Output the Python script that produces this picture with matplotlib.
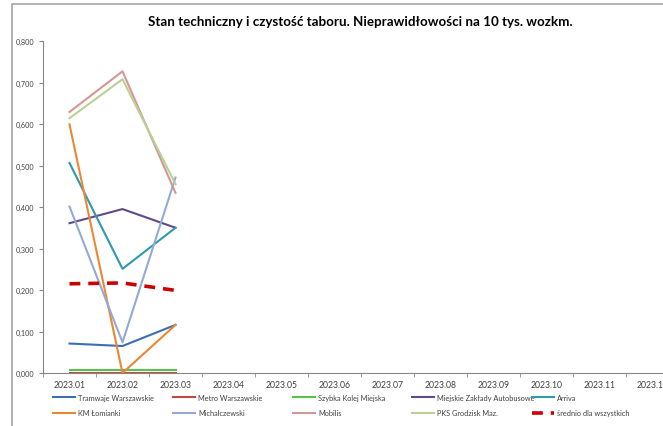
import numpy as np
import matplotlib.pyplot as plt
from matplotlib.patches import Rectangle

plt.rcParams['font.family'] = ['Lato', 'DejaVu Sans']

#---------------------------------------------------------------------------------------------
# data

months = ['2023.01', '2023.02', '2023.03', '2023.04', '2023.05', '2023.06',
          '2023.07', '2023.08', '2023.09', '2023.10', '2023.11', '2023.12']

names = ['Tramwaje Warszawskie', 'Metro Warszawskie', 'Szybka Kolej Miejska',
         'Miejskie Zakłady Autobusowe', 'Arriva', 'KM Łomianki', 'Michalczewski',
         'Mobilis', 'PKS Grodzisk Maz.', 'średnio dla wszystkich']

tw = [0.071, 0.065, 0.116]
metro = [0.001, 0.001, 0.001]
skm = [0.007, 0.007, 0.007]
mza = [0.361, 0.395, 0.350]
arriva = [0.506, 0.251, 0.350]
lomianki = [0.599, 0.000, 0.116]
michalczewski = [0.401, 0.074, 0.471]
mobilis = [0.629, 0.727, 0.434]
pks = [0.614, 0.708, 0.455]
avg = [0.215, 0.217, 0.199]

series = [tw, metro, skm, mza, arriva, lomianki, michalczewski, mobilis, pks, avg]
colors = ['#3C6EB4', '#BE4B48', '#5CBF4E', '#5F4B8B', '#2E9AB0',
          '#EB8634', '#93AAD6', '#D79696', '#B9D192', '#CC0000']

yticks = np.arange(0, 0.81, 0.1)

#---------------------------------------------------------------------------------------------
# plot

fig = plt.figure(figsize=(6.63, 4.27), dpi=100)

# chart area border (the screenshot is cropped at right and bottom)
fig.add_artist(Rectangle((12 / 663, -0.1), 1.2, (427 - 5) / 427 + 0.1,
                         transform=fig.transFigure, fill=False,
                         edgecolor='#A6A6A6', linewidth=1.2))

ax = fig.add_axes([43 / 663, 53 / 427, 636 / 663, 332 / 427])

x = np.arange(len(months))
lines = []
for i in range(len(series)):
    vals = series[i]
    if i == len(series) - 1:
        l, = ax.plot(x[:len(vals)], vals, color=colors[i], lw=2.6,
                     dashes=(3, 2.2), label=names[i])
    else:
        l, = ax.plot(x[:len(vals)], vals, color=colors[i], lw=1.5, label=names[i])
    lines.append(l)

ax.set_xlim(-0.5, len(months) - 0.5)
ax.set_ylim(0, 0.8)
ax.set_yticks(yticks)
ax.set_yticklabels([('%.3f' % v).replace('.', ',') for v in yticks])
ax.set_xticks(x)
ax.set_xticklabels(months)
ax.set_xticks(np.arange(-0.5, len(months), 1), minor=True)
ax.tick_params(axis='x', which='major', length=0, labelsize=6.2, colors='#404040', pad=5)
ax.tick_params(axis='x', which='minor', length=3, color='#868686')
ax.tick_params(axis='y', length=3, labelsize=5.2, colors='#404040', pad=3, color='#868686')

for s in ['top', 'right']:
    ax.spines[s].set_visible(False)
ax.spines['left'].set_color('#868686')
ax.spines['bottom'].set_color('#868686')

fig.text(360 / 663, 1 - 22 / 427,
         'Stan techniczny i czystość taboru. Nieprawidłowości na 10 tys. wozkm.',
         ha='center', va='center', fontsize=9.6, fontweight='bold')

# legend, one column at a time so the columns are evenly spaced like in Excel
col_x = [53, 173, 293, 412, 532]
for c in range(5):
    leg = fig.legend([lines[c], lines[c + 5]], [names[c], names[c + 5]],
                     loc='upper left', bbox_to_anchor=(col_x[c] / 663, 1 - 395 / 427),
                     frameon=False, fontsize=5.3, handlelength=3.0,
                     handletextpad=0.4, labelspacing=1.1, borderaxespad=0,
                     borderpad=0)
    for t in leg.get_texts():
        t.set_color('#404040')

fig.savefig('out.png', dpi=100)
